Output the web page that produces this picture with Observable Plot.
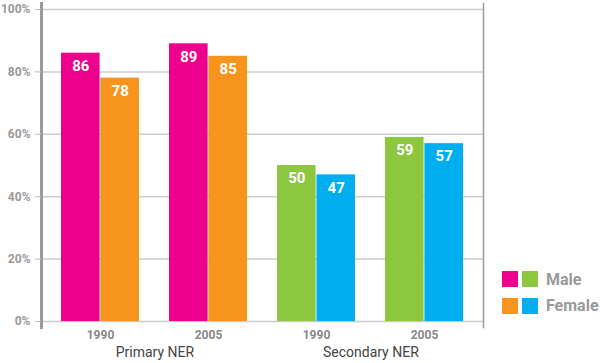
<!DOCTYPE html>
<html><head><meta charset="utf-8">
<script src="https://cdn.jsdelivr.net/npm/d3@7"></script>
<script src="https://cdn.jsdelivr.net/npm/@observablehq/plot@0.6"></script>
<style>
body{margin:0;background:#fff;}
#wrap{position:relative;width:600px;height:363px;font-family:Roboto,"Liberation Sans",sans-serif;}
.legrow{position:absolute;left:502px;display:flex;align-items:center;height:16px;}
.sw{width:16px;height:16px;margin-right:4px;}
.legtxt{margin-left:4px;font-size:16px;font-weight:bold;color:#999;}
</style></head><body><div id="wrap"></div>
<script>
const levels = ["Primary","Primary","Secondary","Secondary"];
const years = ["1990","2005","1990","2005"];
const maleValues = [86, 89, 50, 59];
const femaleValues = [78, 85, 47, 57];
const yTicks = [0, 20, 40, 60, 80, 100];
const levelLabels = ["Primary NER", "Secondary NER"];
const legendLabels = ["Male", "Female"];
const seriesDomain = ["Primary-Male","Secondary-Male","Primary-Female","Secondary-Female"];
const seriesColors = ["#EC008C","#8DC63F","#F7941E","#00AEEF"];

const keys = levels.map((l,i) => l + " " + years[i]);
const maleRows = keys.map((k,i) => ({key:k, value:maleValues[i], series:levels[i]+"-Male"}));
const femaleRows = keys.map((k,i) => ({key:k, value:femaleValues[i], series:levels[i]+"-Female"}));
const levelRows = levelLabels.map((lab,i) => ({key: keys[i*2], label: lab}));

const xOpts = {type:"band", domain:keys, range:[41,483], paddingInner:0.275, paddingOuter:0.17};
const xs = Plot.scale({x: xOpts});
const half = xs.bandwidth / 2;
const step = xs.step;

const chart = Plot.plot({
  width:600, height:363,
  marginLeft:41, marginRight:117, marginTop:3, marginBottom:36,
  style:{fontFamily:"Roboto, 'Liberation Sans', sans-serif", background:"white", overflow:"visible"},
  x:{domain:keys, paddingInner:0.275, paddingOuter:0.17, axis:null},
  y:{domain:[0,100], range:[321,9], axis:null},
  color:{domain:seriesDomain, range:seriesColors},
  marks:[
    Plot.ruleY(yTicks, {stroke:"#cccccc", strokeWidth:1.5}),
    Plot.barY(maleRows, {x:"key", y:"value", fill:"series", insetRight:half}),
    Plot.barY(femaleRows, {x:"key", y:"value", fill:"series", insetLeft:half}),
    Plot.text(maleRows, {x:"key", y:"value", text:"value", dx:-half/2, dy:13, fill:"white", fontWeight:"bold", fontSize:15}),
    Plot.text(femaleRows, {x:"key", y:"value", text:"value", dx:half/2, dy:13, fill:"white", fontWeight:"bold", fontSize:15}),
    Plot.frame({anchor:"left", stroke:"#9a9a9a", strokeWidth:3}),
    Plot.frame({anchor:"right", stroke:"#9a9a9a", strokeWidth:1.5}),
    Plot.axisY(yTicks, {tickFormat:d => d + "%", tickSize:6, tickPadding:5, stroke:"#bbb", fill:"#999", fontSize:12, fontWeight:"bold", label:null}),
    Plot.axisX({tickFormat:k => k.split(" ")[1], tickSize:0, tickPadding:3, fill:"#888", fontSize:12, fontWeight:"bold", label:null}),
    Plot.text(levelRows, {x:"key", text:"label", frameAnchor:"bottom", dx:step/2, dy:29, fontSize:14, fill:"#444"})
  ]
});
const wrap = document.getElementById("wrap");
wrap.appendChild(chart);

const legColors = [["#EC008C","#8DC63F"],["#F7941E","#00AEEF"]];
legendLabels.forEach((lab,i) => {
  const row = document.createElement("div");
  row.className = "legrow";
  row.style.top = (271 + i*26.5) + "px";
  legColors[i].forEach(c => {
    const s = document.createElement("div");
    s.className = "sw"; s.style.background = c;
    row.appendChild(s);
  });
  const t = document.createElement("span");
  t.className = "legtxt"; t.textContent = lab;
  row.appendChild(t);
  wrap.appendChild(row);
});
</script></body></html>
